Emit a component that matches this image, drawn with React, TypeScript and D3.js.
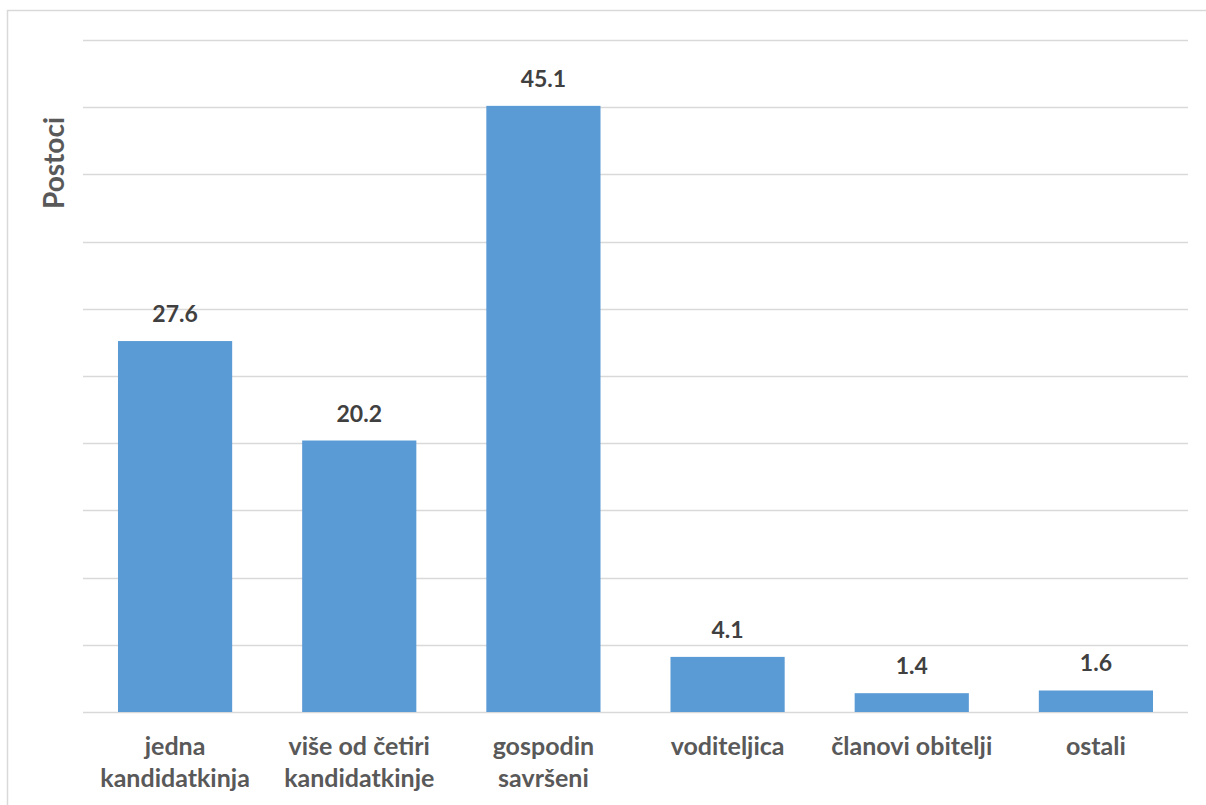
import * as d3 from "d3";
import { useEffect, useRef } from "react";

const categories = [
  ["jedna", "kandidatkinja"],
  ["više od četiri", "kandidatkinje"],
  ["gospodin", "savršeni"],
  ["voditeljica"],
  ["članovi obitelji"],
  ["ostali"],
];
const values = [27.6, 20.2, 45.1, 4.1, 1.4, 1.6];
const yTicks = [0, 5, 10, 15, 20, 25, 30, 35, 40, 45, 50];

const W = 1206;
const H = 805;
const FONT = "Lato, 'Open Sans', sans-serif";

export default function App() {
  const ref = useRef<SVGSVGElement>(null);

  useEffect(() => {
    if (!ref.current) return;
    const svg = d3.select(ref.current);
    svg.selectAll("*").remove();

    const margin = { top: 40, right: 18, bottom: 93, left: 83 };
    const x = d3
      .scaleBand()
      .domain(categories.map((_, i) => String(i)))
      .range([margin.left, W - margin.right])
      .paddingInner(0.38)
      .paddingOuter(0.19);
    const y = d3
      .scaleLinear()
      .domain([0, 50])
      .range([H - margin.bottom, margin.top]);

    // frame
    svg
      .append("rect")
      .attr("x", 7.5)
      .attr("y", 10.5)
      .attr("width", W + 10)
      .attr("height", H + 10)
      .attr("fill", "#fff")
      .attr("stroke", "#d9d9d9")
      .attr("stroke-width", 1.5);

    // gridlines
    svg
      .append("g")
      .selectAll("line")
      .data(yTicks)
      .enter()
      .append("line")
      .attr("x1", margin.left)
      .attr("x2", W - margin.right)
      .attr("y1", (d) => Math.round(y(d)) + 0.5)
      .attr("y2", (d) => Math.round(y(d)) + 0.5)
      .attr("stroke", "#d9d9d9")
      .attr("stroke-width", 1.5);

    // bars
    svg
      .append("g")
      .selectAll("rect")
      .data(values)
      .enter()
      .append("rect")
      .attr("x", (_, i) => x(String(i))!)
      .attr("y", (d) => y(d))
      .attr("width", x.bandwidth())
      .attr("height", (d) => y(0) - y(d))
      .attr("fill", "#5b9bd5");

    // value labels
    svg
      .append("g")
      .selectAll("text")
      .data(values)
      .enter()
      .append("text")
      .attr("x", (_, i) => x(String(i))! + x.bandwidth() / 2)
      .attr("y", (d) => y(d) - 19)
      .attr("text-anchor", "middle")
      .attr("font-family", FONT)
      .attr("font-weight", "bold")
      .attr("font-size", 23)
      .attr("fill", "#404040")
      .text((d) => d.toFixed(1));

    // category labels
    const cat = svg
      .append("g")
      .selectAll("text")
      .data(categories)
      .enter()
      .append("text")
      .attr("text-anchor", "middle")
      .attr("font-family", FONT)
      .attr("font-weight", "bold")
      .attr("font-size", 25)
      .attr("fill", "#595959");
    cat.each(function (lines, i) {
      const t = d3.select(this);
      lines.forEach((line, j) => {
        t.append("tspan")
          .attr("x", x(String(i))! + x.bandwidth() / 2)
          .attr("y", y(0) + 43 + j * 32)
          .text(line);
      });
    });

    // y axis title
    svg
      .append("text")
      .attr("transform", `translate(64,${163}) rotate(-90)`)
      .attr("text-anchor", "middle")
      .attr("font-family", FONT)
      .attr("font-weight", "bold")
      .attr("font-size", 28)
      .attr("fill", "#595959")
      .text("Postoci");
  }, []);

  return (
    <svg
      ref={ref}
      width={W}
      height={H}
      style={{ position: "absolute", left: 0, top: 0 }}
    ></svg>
  );
}
